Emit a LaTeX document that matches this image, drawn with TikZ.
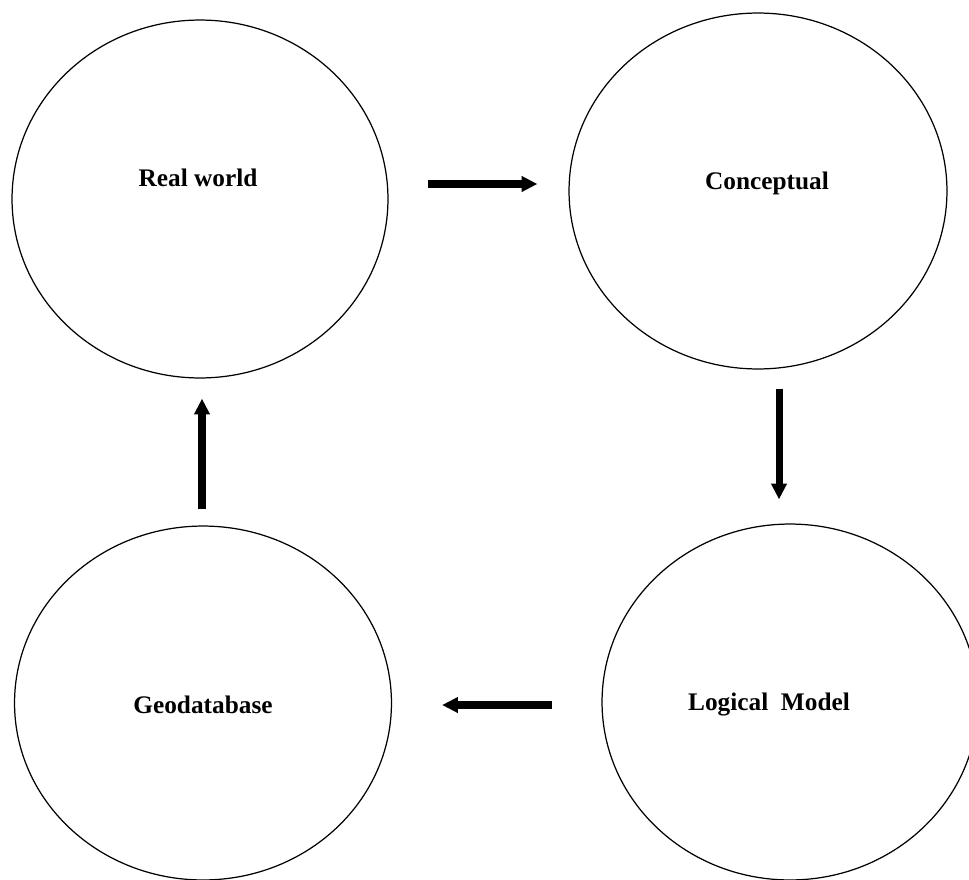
\documentclass[tikz,border=0pt]{standalone}
\usepackage{fontspec}
\setmainfont{Liberation Serif}
\usetikzlibrary{shapes.geometric, arrows.meta}

\begin{document}
\begin{tikzpicture}[
    x=0.02cm, y=-0.02cm,
    phase/.style={ellipse, draw=black, line width=0.7pt, minimum width=7.52cm, minimum height=7.16cm, inner sep=0pt},
    phasetext/.style={font=\fontsize{14.4}{17}\selectfont\bfseries, inner sep=0pt, text height=1.6ex, text depth=0pt},
    flow/.style={-{Triangle[width=8.5pt, length=9pt]}, line width=4pt}
]
\useasboundingbox (0,0) rectangle (969,879);
\clip (0,0) rectangle (969,879);

\node[phase] (real) at (200,199) {};
\node[phase, minimum width=7.56cm, minimum height=7.12cm] (concept) at (758,191) {};
\node[phase, minimum width=7.54cm, minimum height=7.08cm] (geo) at (203,703) {};
\node[phase, minimum height=7.12cm] (logical) at (790,702) {};

\node[phasetext] (realtext) at (198,180) {Real world};
\node[phasetext] (concepttext) at (767,183) {Conceptual};
\node[phasetext] (geotext) at (203,707) {Geodatabase};
\node[phasetext] (logicaltext) at (769,704) {Logical~~Model};

\draw[flow, shorten <=0.78cm, shorten >=0.62cm] (real.east |- 0,184) -- (concept.west |- 0,184);
\draw[flow, shorten <=0.38cm, shorten >=0.48cm] (concept.south -| 779,0) -- (logical.north -| 779,0);
\draw[flow, shorten <=0.98cm, shorten >=1.0cm] (logical.west |- 0,705) -- (geo.east |- 0,705);
\draw[flow, shorten <=0.32cm, shorten >=0.4cm] (geo.north -| 202,0) -- (real.south -| 202,0);

\end{tikzpicture}
\end{document}
